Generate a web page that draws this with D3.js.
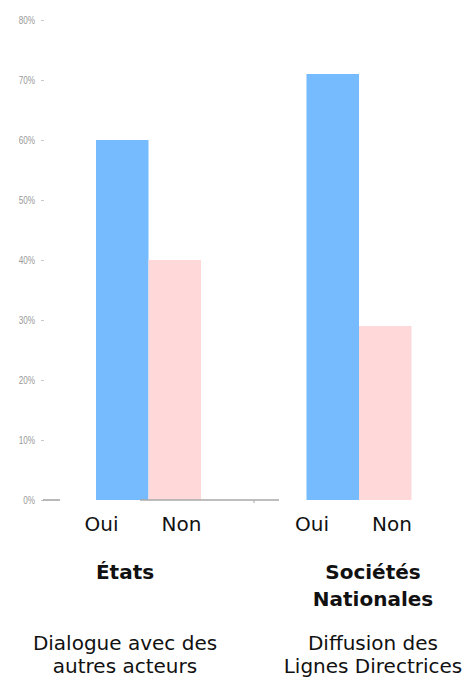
<!DOCTYPE html>
<html>
<head>
<meta charset="utf-8">
<script src="https://cdn.jsdelivr.net/npm/d3@7"></script>
<style>
  html, body { margin: 0; padding: 0; background: #fff; }
  svg { display: block; }
</style>
</head>
<body>
<svg id="chart" width="476" height="686"></svg>
<script>
// Survey answers per group, in percent
const groups = ["États", "Sociétés Nationales"];
const answers = ["Oui", "Non"];
const ouiValues = [60, 71];
const nonValues = [40, 29];
const yTicks = [0, 10, 20, 30, 40, 50, 60, 70, 80];
const groupTitles = [["États"], ["Sociétés", "Nationales"]];
const groupTopics = [["Dialogue avec des", "autres acteurs"], ["Diffusion des", "Lignes Directrices"]];

const colors = { Oui: "#77bbff", Non: "#ffd9d9" };

const svg = d3.select("#chart");

const y = d3.scaleLinear().domain([0, 80]).range([500, 20]);

// group centres, then a band scale for the two answers inside each group
const xGroup = d3.scalePoint().domain(groups).range([148.5, 359]);
const xAnswer = d3.scaleBand().domain(answers).range([-52.5, 52.5]);
// answer labels sit slightly left of the bars
const xAnswerLabel = d3.scalePoint().domain(answers).range([-47, 33]);

const rows = [];
groups.forEach((g, i) => {
  rows.push({ group: g, answer: "Oui", value: ouiValues[i] });
  rows.push({ group: g, answer: "Non", value: nonValues[i] });
});

// y axis
const yAxis = svg.append("g")
  .attr("transform", "translate(44,0)")
  .call(d3.axisLeft(y).tickValues(yTicks).tickSize(3).tickPadding(6).tickFormat(d => d + "%"));
yAxis.select(".domain").remove();
yAxis.selectAll(".tick line").attr("stroke", "#c8c8c8");
yAxis.selectAll(".tick text")
  .attr("fill", "#999")
  .style("font-family", "'Liberation Sans', Arial, sans-serif")
  .style("font-size", "10px")
  .attr("transform", "scale(0.82,1)")
  .attr("x", -9 / 0.82);

// bars
svg.append("g").selectAll("rect")
  .data(rows)
  .join("rect")
  .attr("x", d => xGroup(d.group) + xAnswer(d.answer))
  .attr("width", xAnswer.bandwidth())
  .attr("y", d => y(d.value))
  .attr("height", d => y(0) - y(d.value))
  .attr("fill", d => colors[d.answer]);

// baseline, drawn in pieces
const base = svg.append("g").attr("stroke", "#a8a8a8").attr("stroke-width", 1.6);
base.append("line").attr("x1", 43).attr("x2", 60).attr("y1", y(0)).attr("y2", y(0));
base.append("line").attr("x1", 140).attr("x2", 279).attr("y1", y(0)).attr("y2", y(0));
base.append("line").attr("x1", 254).attr("x2", 254).attr("y1", y(0)).attr("y2", y(0) + 3)
  .attr("stroke-width", 1);

const font = "'DejaVu Sans', Verdana, sans-serif";

// answer labels
svg.append("g").selectAll("text")
  .data(rows)
  .join("text")
  .attr("x", d => xGroup(d.group) + xAnswerLabel(d.answer))
  .attr("y", 531)
  .attr("text-anchor", "middle")
  .style("font-family", font)
  .style("font-size", "20px")
  .attr("fill", "#111")
  .text(d => d.answer);

// group titles and topics
const titleCenter = [125, 373];
groups.forEach((g, i) => {
  groupTitles[i].forEach((line, j) => {
    svg.append("text")
      .attr("x", titleCenter[i])
      .attr("y", 579 + j * 27)
      .attr("text-anchor", "middle")
      .style("font-family", font)
      .style("font-size", "20px")
      .style("font-weight", "bold")
      .attr("fill", "#111")
      .text(line);
  });
  groupTopics[i].forEach((line, j) => {
    svg.append("text")
      .attr("x", titleCenter[i])
      .attr("y", 650 + j * 23)
      .attr("text-anchor", "middle")
      .style("font-family", font)
      .style("font-size", "20px")
      .attr("fill", "#111")
      .text(line);
  });
});
</script>
</body>
</html>
